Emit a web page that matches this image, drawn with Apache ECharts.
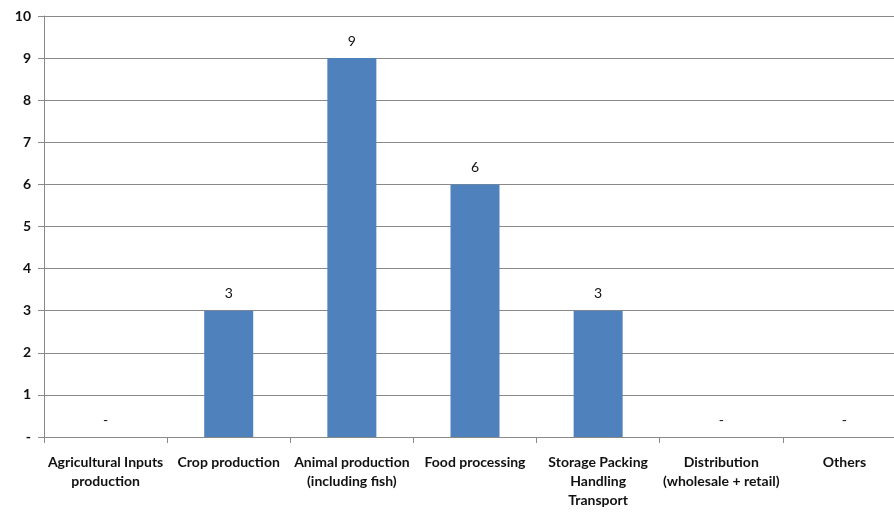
<!DOCTYPE html>
<html>
<head>
<meta charset="utf-8">
<script src="https://cdn.jsdelivr.net/npm/echarts@6/dist/echarts.min.js"></script>
<style>html,body{margin:0;padding:0;background:#fff;overflow:hidden}#c{width:906px;height:512px}</style>
</head>
<body>
<div id="c"></div>
<script>
var categories = ["Agricultural Inputs\nproduction", "Crop production", "Animal production\n(including fish)", "Food processing", "Storage Packing\nHandling\nTransport", "Distribution\n(wholesale + retail)", "Others"];
var values = [0, 3, 9, 6, 3, 0, 0];
var yTicks = { min: 0, max: 10, interval: 1 };

var chart = echarts.init(document.getElementById('c'));
var font = 'Lato, "Open Sans", sans-serif';
chart.setOption({
  animation: false,
  grid: { left: 44, right: 0, top: 16, bottom: 75, containLabel: false },
  xAxis: {
    type: 'category',
    data: categories,
    axisLine: { lineStyle: { color: '#898989' } },
    axisTick: { show: true, length: 6, lineStyle: { color: '#898989' } },
    axisLabel: { interval: 0, color: '#111', fontFamily: font, fontSize: 14, fontWeight: 'bold', lineHeight: 19, margin: 16, align: 'center' }
  },
  yAxis: {
    type: 'value',
    min: yTicks.min, max: yTicks.max, interval: yTicks.interval,
    axisLine: { show: true, lineStyle: { color: '#898989' } },
    axisTick: { show: true, length: 6, lineStyle: { color: '#898989' } },
    splitLine: { lineStyle: { color: '#898989' } },
    axisLabel: { color: '#111', fontFamily: font, fontSize: 14, fontWeight: 'bold', margin: 13,
      formatter: function (v) { return v === 0 ? '-' : String(v); } }
  },
  series: [{
    type: 'bar',
    data: values,
    barWidth: 49,
    itemStyle: { color: '#4F81BD' },
    label: { show: true, position: 'top', distance: 10, color: '#111', fontFamily: font, fontSize: 14,
      formatter: function (p) { return p.value === 0 ? '-' : String(p.value); } }
  }]
});
</script>
</body>
</html>
